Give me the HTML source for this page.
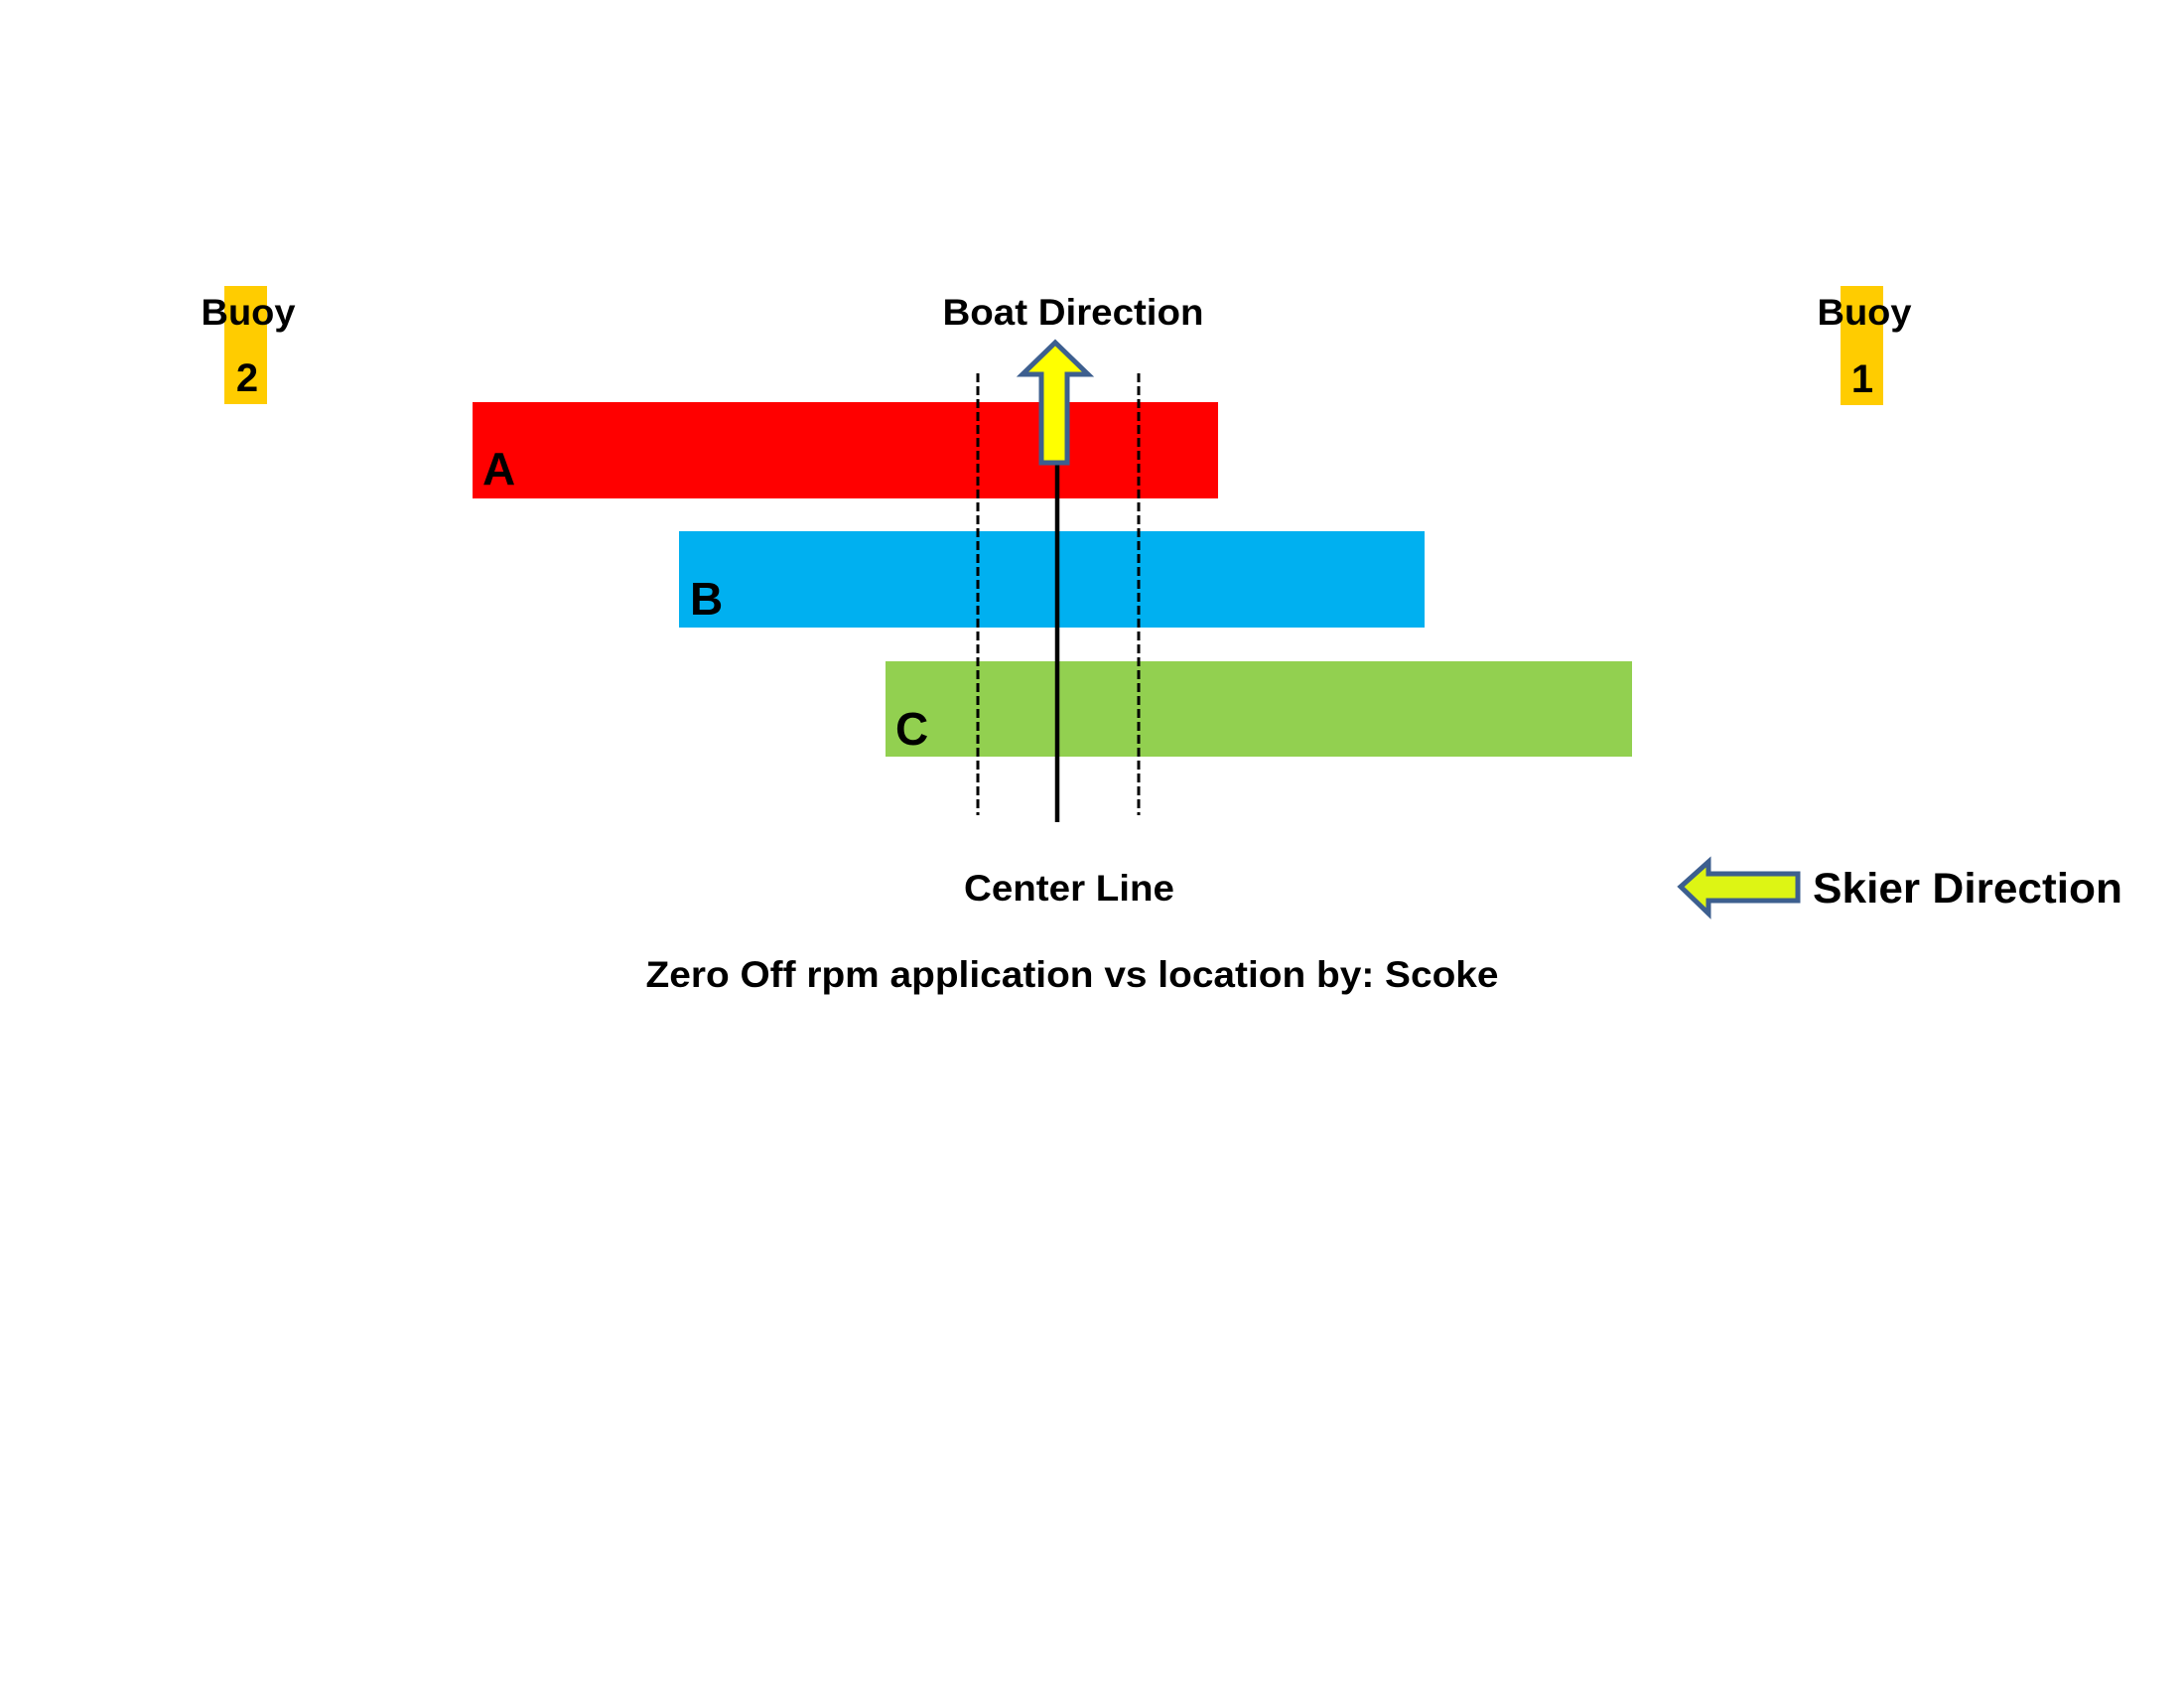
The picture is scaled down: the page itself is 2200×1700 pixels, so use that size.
<!DOCTYPE html>
<html><head><meta charset="utf-8"><style>
html,body{margin:0;padding:0;background:#fff;}
svg{display:block;}
text{font-family:"Liberation Sans",Arial,sans-serif;font-weight:bold;fill:#000;}
</style></head><body>
<svg width="2200" height="1700" viewBox="0 0 2200 1700" xmlns="http://www.w3.org/2000/svg">
<rect width="2200" height="1700" fill="#fff"/>
<!-- buoys -->
<rect x="226" y="288" width="43" height="119" fill="#ffcc00"/>
<rect x="1854" y="288" width="43" height="120" fill="#ffcc00"/>
<text x="250" y="327" font-size="37" text-anchor="middle" textLength="95" lengthAdjust="spacingAndGlyphs">Buoy</text>
<text x="249" y="394" font-size="40" text-anchor="middle">2</text>
<text x="1878" y="327" font-size="37" text-anchor="middle" textLength="95" lengthAdjust="spacingAndGlyphs">Buoy</text>
<text x="1876" y="395" font-size="40" text-anchor="middle">1</text>
<!-- bars -->
<rect x="476" y="405" width="751" height="97" fill="#ff0000"/>
<rect x="684" y="535" width="751" height="97" fill="#00b0f0"/>
<rect x="892" y="666" width="752" height="96" fill="#92d050"/>
<text x="486" y="488" font-size="46">A</text>
<text x="695" y="619" font-size="46">B</text>
<text x="902" y="750" font-size="46">C</text>
<!-- lines -->
<line x1="985" y1="376" x2="985" y2="821" stroke="#000" stroke-width="3" stroke-dasharray="9,4"/>
<line x1="1147" y1="376" x2="1147" y2="821" stroke="#000" stroke-width="3" stroke-dasharray="9,4"/>
<line x1="1065" y1="468" x2="1065" y2="828" stroke="#000" stroke-width="4.5"/>
<!-- boat arrow -->
<polygon points="1063,345 1096,377 1075,377 1075,466 1049,466 1049,377 1030,377" fill="#ffff00" stroke="#3d5f8f" stroke-width="5" stroke-linejoin="miter"/>
<text x="1081" y="327" font-size="37" text-anchor="middle" textLength="263" lengthAdjust="spacingAndGlyphs">Boat Direction</text>
<!-- skier arrow -->
<polygon points="1693,893 1721,868 1721,880 1811,880 1811,907 1721,907 1721,920" fill="#ddf514" stroke="#3d5f8f" stroke-width="5" stroke-linejoin="miter"/>
<text x="1826" y="909" font-size="43" textLength="312" lengthAdjust="spacingAndGlyphs">Skier Direction</text>
<!-- bottom labels -->
<text x="1077" y="907" font-size="37" text-anchor="middle" textLength="212" lengthAdjust="spacingAndGlyphs">Center Line</text>
<text x="1080" y="994" font-size="37" text-anchor="middle" textLength="859" lengthAdjust="spacingAndGlyphs">Zero Off rpm application vs location by: Scoke</text>
</svg>
</body></html>
